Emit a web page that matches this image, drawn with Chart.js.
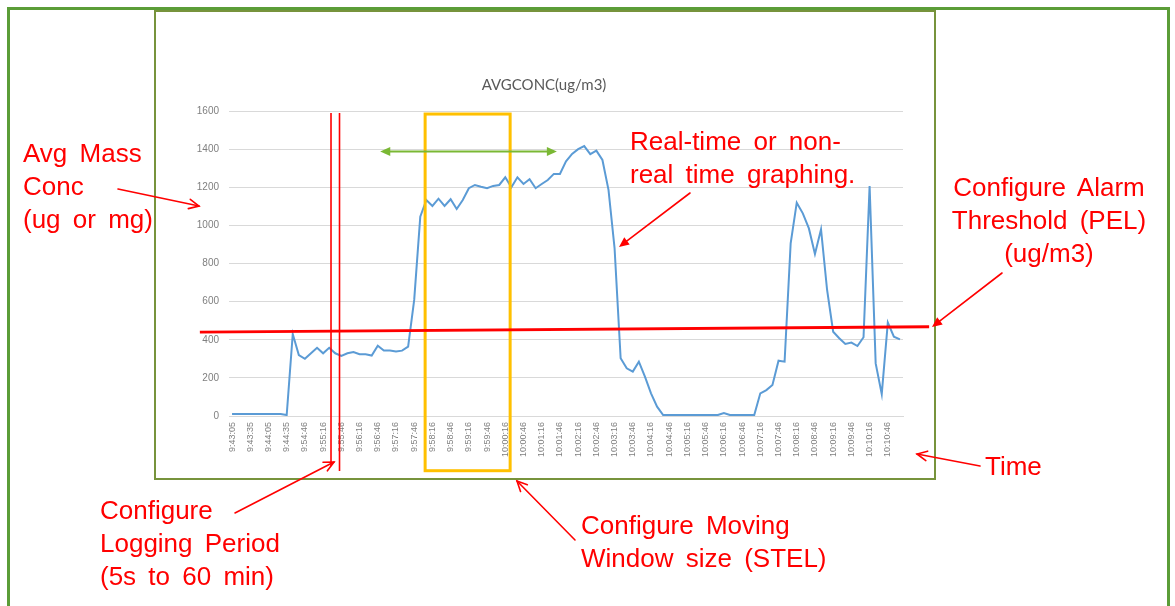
<!DOCTYPE html>
<html>
<head>
<meta charset="utf-8">
<title>AVGCONC</title>
<script src="https://cdn.jsdelivr.net/npm/chart.js@4.4.1/dist/chart.umd.min.js"></script>
<style>
    html, body { margin: 0; padding: 0; background: #fff; }
    #slide { position: relative; width: 1175px; height: 606px; overflow: hidden; background: #fff; }
    #outerFrame { position: absolute; left: 7px; top: 7px; width: 1157px; height: 640px; border: 3px solid #5b9d38; }
    #chartFrame { position: absolute; left: 154px; top: 10px; width: 778px; height: 466px; border: 2px solid #77933c; }
    #myChart { position: absolute; left: 0; top: 0; }
    .note {
        position: absolute;
        color: #ff0000;
        font-family: "Liberation Sans", Arial, sans-serif;
        font-size: 26px;
        line-height: 33px;
        word-spacing: 5px;
        white-space: nowrap;
    }
</style>
</head>
<body>
<div id="slide">
    <div id="outerFrame"></div>
    <div id="chartFrame"></div>
    <canvas id="myChart" width="1175" height="606"></canvas>

    <div class="note" style="left:23px; top:137px;">Avg Mass<br>Conc<br>(ug or mg)</div>
    <div class="note" style="left:630px; top:125px;">Real-time or non-<br>real time graphing.</div>
    <div class="note" style="left:929px; top:171px; width:240px; text-align:center;">Configure Alarm<br>Threshold (PEL)<br>(ug/m3)</div>
    <div class="note" style="left:100px; top:494px;">Configure<br>Logging Period<br>(5s to 60 min)</div>
    <div class="note" style="left:581px; top:509px;">Configure Moving<br>Window size (STEL)</div>
    <div class="note" style="left:985px; top:450px;">Time</div>
</div>

<script>
    // Etiketi görünen zaman noktaları (her 3 noktada bir)
    const tickLabels = ['9:43:05', '9:43:35', '9:44:05', '9:44:35', '9:54:46', '9:55:16', '9:55:46', '9:56:16',
        '9:56:46', '9:57:16', '9:57:46', '9:58:16', '9:58:46', '9:59:16', '9:59:46', '10:00:16', '10:00:46',
        '10:01:16', '10:01:46', '10:02:16', '10:02:46', '10:03:16', '10:03:46', '10:04:16', '10:04:46',
        '10:05:16', '10:05:46', '10:06:16', '10:06:46', '10:07:16', '10:07:46', '10:08:16', '10:08:46',
        '10:09:16', '10:09:46', '10:10:16', '10:10:46'];

    // AVGCONC (ug/m3) ölçümleri
    const avgConc = [
        10, 10, 10, 10, 10, 10, 10, 10, 10, 5,
        430, 320, 300, 329, 358, 329, 358, 329, 315, 329,
        336, 324, 324, 317, 369, 343, 343, 338, 343, 364,
        609, 1046, 1133, 1102, 1140, 1102, 1137, 1086, 1133, 1195,
        1212, 1203, 1195, 1207, 1212, 1252, 1200, 1252, 1217, 1242,
        1195, 1217, 1238, 1270, 1270, 1336, 1375, 1400, 1416, 1374,
        1392, 1343, 1186, 880, 303, 250, 233, 285, 206, 119,
        49, 5, 5, 5, 5, 5, 5, 5, 5, 5,
        5, 15, 5, 5, 5, 5, 5, 119, 136, 163,
        290, 285, 906, 1119, 1063, 984, 850, 979, 661, 442,
        408, 378, 385, 367, 413, 1207, 276, 115, 490, 416,
        402
    ];

    const yTicks = [0, 200, 400, 600, 800, 1000, 1200, 1400, 1600];

    // Kategoriler: sadece her 3. noktada etiket var
    const categories = avgConc.map((v, i) => (i % 3 === 0 && tickLabels[i / 3]) ? tickLabels[i / 3] : '');

    // Grafik üzerindeki işaretler (kategori indeksi, değer)
    const thresholdLine = { from: [-5.3, 440], to: [114.8, 468] };
    const loggingLines = [[16.3, 1590, -262], [17.7, 1590, -289]];
    const windowBox = { left: 31.8, right: 45.8, top: 1584, bottom: -287 };
    const windowArrow = { from: 24.4, to: 53.5, value: 1387 };

    // Açıklama okları (sayfa pikselleri)
    const callouts = [
        { from: [118, 189], to: [199, 206], filled: false },
        { from: [690, 193], to: [619, 247], filled: true },
        { from: [1002, 273], to: [932, 327], filled: true },
        { from: [235, 513], to: [334, 462], filled: false },
        { from: [575, 540], to: [517, 481], filled: false },
        { from: [980, 466], to: [917, 454], filled: false }
    ];

    // Ok çizen yardımcı fonksiyon
    function drawArrow(ctx, x1, y1, x2, y2, color, width, head, filled, bothEnds) {
        const ang = Math.atan2(y2 - y1, x2 - x1);
        const spread = filled ? 0.42 : 0.45;
        ctx.save();
        ctx.strokeStyle = color;
        ctx.fillStyle = color;
        ctx.lineWidth = width;
        ctx.lineCap = 'round';

        let sx = x1, sy = y1, ex = x2, ey = y2;
        if (filled) {
            ex = x2 - Math.cos(ang) * head * 0.8;
            ey = y2 - Math.sin(ang) * head * 0.8;
            if (bothEnds) {
                sx = x1 + Math.cos(ang) * head * 0.8;
                sy = y1 + Math.sin(ang) * head * 0.8;
            }
        }
        ctx.beginPath();
        ctx.moveTo(sx, sy);
        ctx.lineTo(ex, ey);
        ctx.stroke();

        const tips = bothEnds ? [[x2, y2, ang], [x1, y1, ang + Math.PI]] : [[x2, y2, ang]];
        tips.forEach(function (t) {
            const ax = t[0] - Math.cos(t[2] - spread) * head;
            const ay = t[1] - Math.sin(t[2] - spread) * head;
            const bx = t[0] - Math.cos(t[2] + spread) * head;
            const by = t[1] - Math.sin(t[2] + spread) * head;
            ctx.beginPath();
            if (filled) {
                ctx.moveTo(t[0], t[1]);
                ctx.lineTo(ax, ay);
                ctx.lineTo(bx, by);
                ctx.closePath();
                ctx.fill();
            } else {
                ctx.moveTo(ax, ay);
                ctx.lineTo(t[0], t[1]);
                ctx.lineTo(bx, by);
                ctx.stroke();
            }
        });
        ctx.restore();
    }

    const slideNotes = {
        id: 'slideNotes',
        afterDraw(chart) {
            const ctx = chart.ctx;
            const xs = chart.scales.x;
            const ys = chart.scales.y;
            const px = v => xs.getPixelForValue(v);
            const py = v => ys.getPixelForValue(v);

            ctx.save();

            // Hareketli pencere kutusu (STEL)
            ctx.strokeStyle = '#ffc000';
            ctx.lineWidth = 3;
            ctx.strokeRect(px(windowBox.left), py(windowBox.top),
                px(windowBox.right) - px(windowBox.left), py(windowBox.bottom) - py(windowBox.top));

            // Kayıt periyodu çizgileri
            ctx.strokeStyle = '#ff0000';
            ctx.lineWidth = 1.6;
            loggingLines.forEach(function (l) {
                ctx.beginPath();
                ctx.moveTo(px(l[0]), py(l[1]));
                ctx.lineTo(px(l[0]), py(l[2]));
                ctx.stroke();
            });

            // Alarm eşiği
            ctx.lineWidth = 3;
            ctx.beginPath();
            ctx.moveTo(px(thresholdLine.from[0]), py(thresholdLine.from[1]));
            ctx.lineTo(px(thresholdLine.to[0]), py(thresholdLine.to[1]));
            ctx.stroke();
            ctx.restore();

            // Yeşil çift yönlü ok
            drawArrow(ctx, px(windowArrow.from), py(windowArrow.value), px(windowArrow.to), py(windowArrow.value),
                '#7ab834', 2, 11, true, true);

            // Açıklama okları
            callouts.forEach(function (c) {
                drawArrow(ctx, c.from[0], c.from[1], c.to[0], c.to[1], '#ff0000', 1.6, 11, c.filled, false);
            });
        }
    };

    const ctx = document.getElementById('myChart').getContext('2d');
    new Chart(ctx, {
        type: 'line',
        data: {
            labels: categories,
            datasets: [{
                label: 'AVGCONC(ug/m3)',
                data: avgConc,
                borderColor: '#5b9bd5',
                borderWidth: 2,
                pointRadius: 0,
                tension: 0,
                fill: false
            }]
        },
        options: {
            responsive: false,
            animation: false,
            layout: { padding: { left: 185, right: 272, top: 76, bottom: 140 } },
            plugins: {
                legend: { display: false },
                tooltip: { enabled: false },
                title: {
                    display: true,
                    text: 'AVGCONC(ug/m3)',
                    color: '#595959',
                    font: { family: 'Lato', size: 15, weight: 'normal' },
                    padding: { top: 0, bottom: 17 }
                }
            },
            scales: {
                x: {
                    offset: true,
                    grid: { display: false, drawTicks: false },
                    border: { display: true, color: '#d9d9d9' },
                    ticks: {
                        autoSkip: false,
                        minRotation: 90,
                        maxRotation: 90,
                        padding: 6,
                        color: '#7f7f7f',
                        font: { family: 'Liberation Sans', size: 9 }
                    },
                    afterFit(scale) { scale.height = 50; }
                },
                y: {
                    min: 0,
                    max: 1600,
                    afterBuildTicks(scale) { scale.ticks = yTicks.map(v => ({ value: v })); },
                    grid: { color: '#d9d9d9', drawTicks: false },
                    border: { display: false },
                    ticks: {
                        padding: 10,
                        color: '#7f7f7f',
                        font: { family: 'Liberation Sans', size: 10 },
                        callback: value => String(value)
                    },
                    afterFit(scale) { scale.width = 44; }
                }
            }
        },
        plugins: [slideNotes]
    });
</script>
</body>
</html>
